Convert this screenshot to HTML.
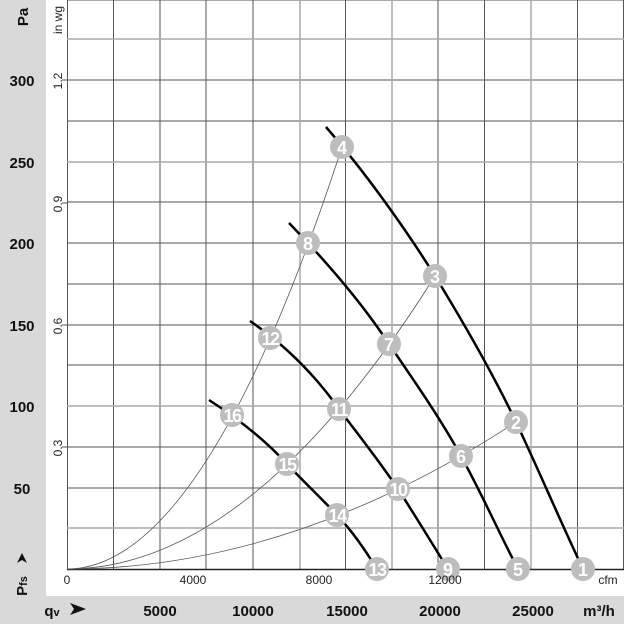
<!DOCTYPE html>
<html><head><style>
body{margin:0;width:624px;height:624px;overflow:hidden;background:#fff}
svg{display:block}
text{font-family:"Liberation Sans",Arial,sans-serif}
</style></head><body>
<svg width="624" height="624" viewBox="0 0 624 624">
<rect x="0" y="0" width="46" height="624" fill="#d9d9d9"/>
<rect x="0" y="596" width="624" height="28" fill="#d9d9d9"/>
<g stroke="#555" stroke-width="1" fill="none">
<path d="M67 0H624M67 80H624M67 121H624M67 202H624M67 243H624M67 284H624M67 325H624M67 365H624M67 447H624M67 488H624"/>
<path d="M67.5 0V569M113.5 0V569M160 0V569M206 0V569M253 0V569M345.5 0V569M438 0V569M484.5 0V569M577.5 0V569M623.5 0V569"/>
</g>
<g stroke="#aaa" stroke-width="1.5" fill="none">
<path d="M67 39H624M67 162H624M67 406H624M67 528H624"/>
<path d="M300 0V569M392 0V569M531 0V569"/>
</g>
<path d="M67 569.5H624" stroke="#222" stroke-width="1.5"/>
<g stroke="#555" stroke-width="1"><path d="M62 80H67M62 203H67M62 325H67M62 447H67"/></g>
<g stroke="#555" stroke-width="0.8" fill="none">
<path d="M67 569 Q204.5 569 342 147"/>
<path d="M67 569 Q251 569 435 276"/>
<path d="M67 569 Q291.5 569 516 422"/>
</g>
<g stroke="#000" stroke-width="2.5" fill="none" stroke-linejoin="round">
<path d="M326 127 C365 172 405 228 435 276 C465 325 496 380 516 422 C540 473 562 525 583 569"/>
<path d="M289 223 C320 255 360 300 389 344 C415 382 440 418 461 456 C483 496 500 535 518 569"/>
<path d="M250 321 C285 345 315 375 339 409 C360 437 380 462 398 489 C418 520 433 545 448 569"/>
<path d="M209 400 C240 420 265 440 287 464 C305 483 320 497 337 515 C353 532 365 550 377 569"/>
</g>
<g fill="#bdbdbd">
<circle cx="583" cy="569" r="12"/><circle cx="516" cy="422" r="12"/><circle cx="435" cy="276" r="12"/><circle cx="342" cy="147" r="12"/>
<circle cx="518" cy="569" r="12"/><circle cx="461" cy="456" r="12"/><circle cx="389" cy="344" r="12"/><circle cx="308" cy="243" r="12"/>
<circle cx="448" cy="569" r="12"/><circle cx="398" cy="489" r="12"/><circle cx="339" cy="409" r="12"/><circle cx="270" cy="338" r="12"/>
<circle cx="377" cy="569" r="12"/><circle cx="337" cy="515" r="12"/><circle cx="287" cy="464" r="12"/><circle cx="232" cy="415" r="12"/>
</g>
<g fill="#fff" font-size="18" font-weight="bold" text-anchor="middle">
<text x="583" y="576">1</text><text x="516" y="429">2</text><text x="435" y="283">3</text><text x="342" y="154">4</text>
<text x="518" y="576">5</text><text x="461" y="463">6</text><text x="389" y="351">7</text><text x="308" y="250">8</text>
<text x="448" y="576">9</text><text x="398" y="496" letter-spacing="-1.5">10</text><text x="339" y="416" letter-spacing="-1.5">11</text><text x="270" y="345" letter-spacing="-1.5">12</text>
<text x="377" y="576" letter-spacing="-1.5">13</text><text x="337" y="522" letter-spacing="-1.5">14</text><text x="287" y="471" letter-spacing="-1.5">15</text><text x="232" y="422" letter-spacing="-1.5">16</text>
</g>
<g font-size="15" font-weight="bold" fill="#111" text-anchor="middle">
<text x="22" y="86">300</text><text x="22" y="168">250</text><text x="22" y="249">200</text>
<text x="22" y="331">150</text><text x="22" y="412">100</text><text x="22" y="494">50</text>
<text transform="translate(28,17) rotate(-90)">Pa</text>
<text transform="translate(27,586) rotate(-90)">P<tspan font-size="11" dy="0">fs</tspan></text>
<text x="160" y="616">5000</text><text x="253" y="616">10000</text><text x="347" y="616">15000</text>
<text x="440" y="616">20000</text><text x="533" y="616">25000</text><text x="599" y="616">m³/h</text>
<text x="52" y="616">q<tspan font-size="11">v</tspan></text>
</g>
<path d="M17 563 L27 558 L17 553 L20 558 Z" fill="#111" transform="rotate(-90 22 558)"/>
<path d="M70 603 L86 609 L70 615 L74 609 Z" fill="#111"/>
<g font-size="12" fill="#222" text-anchor="middle">
<text transform="translate(62,81) rotate(-90)">1.2</text>
<text transform="translate(62,204) rotate(-90)">0.9</text>
<text transform="translate(62,326) rotate(-90)">0.6</text>
<text transform="translate(62,448) rotate(-90)">0.3</text>
<text transform="translate(62,20) rotate(-90)">in wg</text>
<text x="67" y="584">0</text><text x="193" y="584">4000</text><text x="319" y="584">8000</text><text x="445" y="584">12000</text>
<text x="608" y="584">cfm</text>
</g>
</svg>
</body></html>
